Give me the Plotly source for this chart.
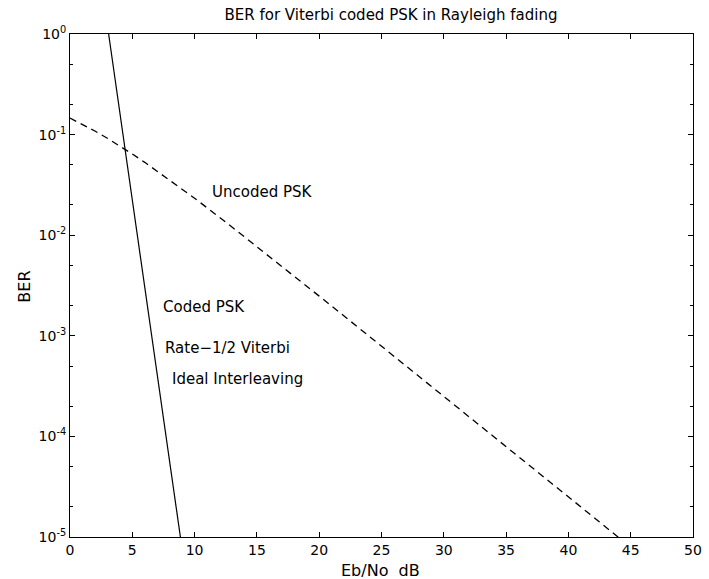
import plotly.graph_objects as go

# Data
uncoded_ebno = [0, 1, 2, 3, 4, 5, 6, 8, 10, 12.5, 15, 17.5, 20, 22.5, 25, 27.5, 30, 32.5, 35, 37.5, 40, 42.5, 44]
uncoded_ber = [0.146, 0.1267, 0.1085, 0.0919, 0.0771, 0.0642, 0.0530, 0.0355, 0.0233, 0.0135,
               0.00772, 0.00439, 0.00248, 0.00140, 0.00079, 0.000445, 0.00025, 0.000141,
               0.000079, 0.0000445, 0.000025, 0.0000141, 0.00000995]
coded_ebno = [3.1, 6.0, 8.86]
coded_ber = [1.0, 0.0030, 0.00001]

x_tick_vals = [0, 5, 10, 15, 20, 25, 30, 35, 40, 45, 50]
y_tick_vals = [1e-5, 1e-4, 1e-3, 1e-2, 1e-1, 1]
y_tick_text = ["10<sup>-5</sup>", "10<sup>-4</sup>", "10<sup>-3</sup>", "10<sup>-2</sup>", "10<sup>-1</sup>", "10<sup>0</sup>"]

font = "DejaVu Sans, Liberation Sans, Arial, sans-serif"

fig = go.Figure()
fig.add_trace(go.Scatter(x=uncoded_ebno, y=uncoded_ber, mode="lines",
                         line=dict(color="black", width=1.3, dash="7px,5px"), showlegend=False))
fig.add_trace(go.Scatter(x=coded_ebno, y=coded_ber, mode="lines",
                         line=dict(color="black", width=1.2), showlegend=False))

anns = [
    ("Uncoded PSK", 11.2, -1.57),
    ("Coded PSK", 7.28, -2.71),
    ("Rate\u22121/2 Viterbi", 7.44, -3.12),
    ("Ideal Interleaving", 7.99, -3.43),
]
for t, x, y in anns:
    fig.add_annotation(x=x, y=y, text=t, showarrow=False, xanchor="left", yanchor="middle",
                       font=dict(family=font, size=15, color="black"))

# axis titles as annotations for exact placement
fig.add_annotation(xref="paper", yref="paper", x=(385 - 70) / 632, y=-(570 - 537) / 503,
                   text="Eb/No  dB", showarrow=False, xanchor="center", yanchor="middle",
                   font=dict(family=font, size=16, color="black"))
fig.add_annotation(xref="paper", yref="paper", x=-(70 - 23) / 632, y=(537 - 287) / 503,
                   text="BER", showarrow=False, xanchor="center", yanchor="middle", textangle=-90,
                   font=dict(family=font, size=16, color="black"))

fig.update_layout(
    width=709, height=579,
    margin=dict(l=70, r=7, t=34, b=42),
    plot_bgcolor="white", paper_bgcolor="white",
    font=dict(family=font, size=14, color="black"),
    title=dict(text="BER for Viterbi coded PSK in Rayleigh fading", x=391 / 709, xanchor="center",
               y=1 - 15 / 579, yanchor="middle", font=dict(size=15)),
)
fig.update_xaxes(range=[0, 50], tickvals=x_tick_vals, ticks="inside", ticklen=5, tickcolor="black",
                 showline=True, linecolor="black", linewidth=1, mirror="ticks", showgrid=False,
                 zeroline=False, tickfont=dict(size=14), ticklabeloverflow="allow")
fig.update_yaxes(type="log", range=[-5, 0], tickvals=y_tick_vals, ticktext=y_tick_text,
                 ticks="inside", ticklen=5, tickcolor="black",
                 minor=dict(ticks="inside", ticklen=3, tickcolor="black", showgrid=False),
                 showline=True, linecolor="black", linewidth=1, mirror="ticks", showgrid=False,
                 zeroline=False, tickfont=dict(size=14))

fig.write_html("out.html", config={"displayModeBar": False},
               post_script="document.body.style.margin='0';document.body.style.overflow='hidden';")
